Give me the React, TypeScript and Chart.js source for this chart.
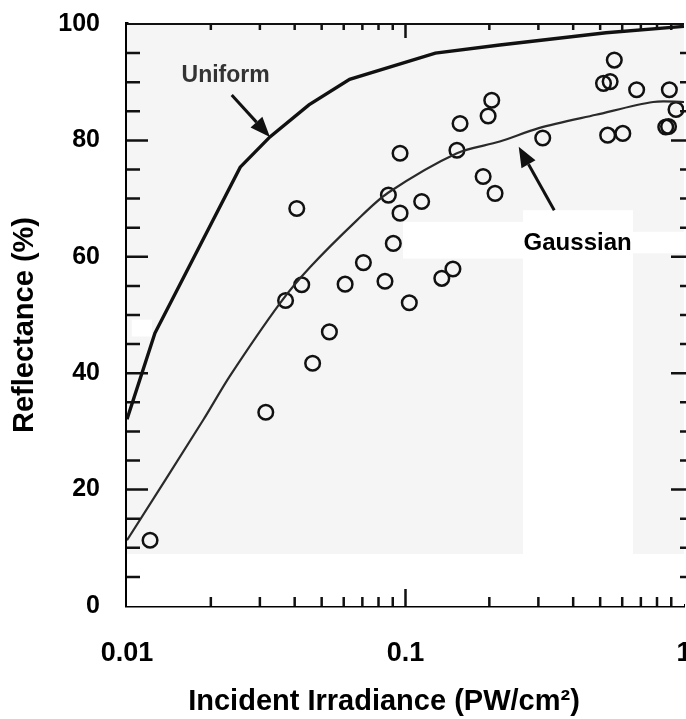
import React, { useEffect, useRef } from 'react';
import { Chart, registerables } from 'chart.js';

Chart.register(...registerables);

// ---- data ----
const uniformX = [0.01, 0.0126, 0.0255, 0.0326, 0.045, 0.063, 0.128, 0.218, 0.525, 1];
const uniformY = [32.1, 46.9, 75.4, 80.6, 86.1, 90.5, 95.0, 96.4, 98.5, 99.6];

const gaussianX = [0.01, 0.0188, 0.0234, 0.0354, 0.0454, 0.067, 0.0866, 0.153, 0.218, 0.301, 0.483, 0.775, 1];
const gaussianY = [11.3, 32.0, 39.5, 52.0, 58.2, 66.3, 71.0, 77.8, 79.8, 82.1, 84.4, 86.6, 86.6];

const measuredX = [
  0.0121, 0.0315, 0.0371, 0.0424, 0.0407, 0.0464, 0.0533, 0.0607, 0.0706, 0.0844,
  0.0904, 0.0868, 0.0956, 0.0956, 0.1032, 0.1143, 0.135, 0.148, 0.153, 0.157,
  0.19, 0.198, 0.204, 0.2097, 0.311, 0.514, 0.543, 0.562, 0.532, 0.603,
  0.676, 0.886, 0.936, 0.86, 0.88,
];
const measuredY = [
  11.3, 33.3, 52.5, 55.2, 68.3, 41.7, 47.1, 55.3, 59.0, 55.8,
  62.3, 70.6, 77.8, 67.5, 52.1, 69.5, 56.3, 57.9, 78.3, 82.9,
  73.8, 84.2, 86.9, 70.9, 80.4, 89.8, 90.1, 93.8, 80.9, 81.2,
  88.7, 88.7, 85.3, 82.3, 82.4,
];

const xTickValues = [0.01, 0.1, 1];
const xTickLabels = ['0.01', '0.1', '1'];
const yTickValues = [0, 20, 40, 60, 80, 100];
const yTickLabels = ['0', '20', '40', '60', '80', '100'];

const xMinorTicks = [0.02, 0.03, 0.04, 0.05, 0.06, 0.07, 0.08, 0.09, 0.1, 0.2, 0.3, 0.4, 0.5, 0.6, 0.7, 0.8, 0.9];
const xMajorTicks = [0.1];
const yMinorTicks = [5, 10, 15, 20, 25, 30, 35, 40, 45, 50, 55, 60, 65, 70, 75, 80, 85, 90, 95];
const yMajorTicks = [20, 40, 60, 80];

const xTitle = 'Incident Irradiance (PW/cm²)';
const yTitle = 'Reflectance (%)';

// annotations, in data coordinates
const labelTexts = ['Uniform', 'Gaussian'];
const labelX = [0.0226, 0.415];
const labelY = [90.1, 61.2];
const arrowFromX = [0.02377, 0.342];
const arrowFromY = [87.8, 68.0];
const arrowToX = [0.0326, 0.255];
const arrowToY = [80.6, 78.9];

// unshaded (white) areas of the scanned plot background, in data coordinates [x0, x1, y0, y1]
const paperPatches = [
  [0.01, 1, 0, 8.93],
  [0.2643, 0.656, 8.93, 68.0],
  [0.098, 0.2643, 59.7, 66.0],
  [0.656, 1, 60.6, 64.3],
  [0.0104, 0.0123, 46.3, 49.2],
];

const FONT = '"Liberation Sans", Arial, Helvetica, sans-serif';

const framePlugin = {
  id: 'frame',
  beforeDatasetsDraw(chart: any) {
    const { ctx, chartArea: a, scales } = chart;
    const xs = scales.x;
    const ys = scales.y;
    ctx.save();
    ctx.fillStyle = '#f5f5f5';
    ctx.fillRect(a.left, a.top, a.right - a.left, a.bottom - a.top);
    ctx.fillStyle = '#ffffff';
    for (const [x0, x1, y0, y1] of paperPatches) {
      const px0 = xs.getPixelForValue(x0);
      const px1 = xs.getPixelForValue(x1);
      const py0 = ys.getPixelForValue(y1);
      const py1 = ys.getPixelForValue(y0);
      ctx.fillRect(px0, py0, px1 - px0, py1 - py0);
    }
    ctx.restore();
  },
  afterDatasetsDraw(chart: any) {
    const { ctx, chartArea: a, scales } = chart;
    const xs = scales.x;
    const ys = scales.y;
    ctx.save();
    ctx.strokeStyle = '#111';
    ctx.lineCap = 'butt';
    // top frame line
    ctx.lineWidth = 2;
    ctx.beginPath();
    ctx.moveTo(a.left, a.top);
    ctx.lineTo(a.right, a.top);
    ctx.stroke();
    ctx.lineWidth = 2.5;
    ctx.beginPath();
    for (const v of yMinorTicks) {
      const p = ys.getPixelForValue(v);
      const major = yMajorTicks.includes(v);
      ctx.moveTo(a.left, p);
      ctx.lineTo(a.left + (major ? 21 : 13), p);
      ctx.moveTo(a.right + 2, p);
      ctx.lineTo(a.right + 2 - (major ? 15 : 6), p);
    }
    for (const v of xMinorTicks) {
      const p = xs.getPixelForValue(v);
      const major = xMajorTicks.includes(v);
      ctx.moveTo(p, a.bottom);
      ctx.lineTo(p, a.bottom - (major ? 17 : 9));
      ctx.moveTo(p, a.top);
      ctx.lineTo(p, a.top + (major ? 14 : 6));
    }
    ctx.stroke();
    ctx.restore();
  },
  afterDraw(chart: any) {
    const { ctx, scales } = chart;
    const xs = scales.x;
    const ys = scales.y;
    ctx.save();
    // axis titles
    ctx.fillStyle = '#000';
    ctx.font = `bold 29px ${FONT}`;
    ctx.textAlign = 'center';
    ctx.textBaseline = 'alphabetic';
    ctx.fillText(xTitle, 384, 710);
    ctx.save();
    ctx.translate(33, 325);
    ctx.rotate(-Math.PI / 2);
    ctx.fillText(yTitle, 0, 0);
    ctx.restore();

    // annotation labels
    labelTexts.forEach((t, i) => {
      ctx.font = i === 0 ? `bold 23px ${FONT}` : `bold 24px ${FONT}`;
      ctx.fillStyle = i === 0 ? '#333' : '#000';
      ctx.fillText(t, xs.getPixelForValue(labelX[i]), ys.getPixelForValue(labelY[i]));
    });

    // arrows
    ctx.strokeStyle = '#111';
    ctx.fillStyle = '#111';
    ctx.lineWidth = 3;
    arrowFromX.forEach((_, i) => {
      const x1 = xs.getPixelForValue(arrowFromX[i]);
      const y1 = ys.getPixelForValue(arrowFromY[i]);
      const x2 = xs.getPixelForValue(arrowToX[i]);
      const y2 = ys.getPixelForValue(arrowToY[i]);
      const ang = Math.atan2(y2 - y1, x2 - x1);
      const hl = 20;
      const hw = 8;
      const bx = x2 - hl * Math.cos(ang);
      const by = y2 - hl * Math.sin(ang);
      ctx.beginPath();
      ctx.moveTo(x1, y1);
      ctx.lineTo(bx, by);
      ctx.stroke();
      ctx.beginPath();
      ctx.moveTo(x2, y2);
      ctx.lineTo(bx + hw * Math.sin(ang), by - hw * Math.cos(ang));
      ctx.lineTo(bx - hw * Math.sin(ang), by + hw * Math.cos(ang));
      ctx.closePath();
      ctx.fill();
    });
    ctx.restore();
  },
};

export default function App() {
  const canvasRef = useRef<HTMLCanvasElement | null>(null);

  useEffect(() => {
    const canvas = canvasRef.current;
    if (!canvas) return;
    Chart.defaults.font.family = FONT;
    const chart = new Chart(canvas, {
      type: 'scatter',
      data: {
        datasets: [
          {
            label: 'Uniform',
            data: uniformX.map((x, i) => ({ x, y: uniformY[i] })),
            showLine: true,
            borderColor: '#111',
            borderWidth: 3.4,
            pointRadius: 0,
            tension: 0,
            fill: false,
          },
          {
            label: 'Gaussian',
            data: gaussianX.map((x, i) => ({ x, y: gaussianY[i] })),
            showLine: true,
            borderColor: '#2a2a2a',
            borderWidth: 2.2,
            pointRadius: 0,
            tension: 0.3,
            fill: false,
          },
          {
            label: 'Measured',
            data: measuredX.map((x, i) => ({ x, y: measuredY[i] })),
            showLine: false,
            pointRadius: 7.3,
            pointHoverRadius: 7.3,
            pointBorderWidth: 2.5,
            pointBorderColor: '#111',
            pointBackgroundColor: 'rgba(0,0,0,0)',
          },
        ],
      } as any,
      options: {
        animation: false,
        responsive: false,
        devicePixelRatio: 1,
        layout: { autoPadding: false, padding: { left: 0, top: 24, right: 2, bottom: 0 } },
        plugins: { legend: { display: false }, tooltip: { enabled: false } },
        scales: {
          x: {
            type: 'logarithmic',
            min: 0.01,
            max: 1,
            afterBuildTicks: (s: any) => {
              s.ticks = xTickValues.map((v) => ({ value: v }));
            },
            afterFit: (s: any) => {
              s.height = 113;
              s.paddingLeft = 0;
              s.paddingRight = 0;
              s.paddingTop = 0;
              s.paddingBottom = 0;
            },
            grid: { display: true, drawOnChartArea: false, drawTicks: false },
            border: { display: true, color: '#000', width: 3.5 },
            ticks: {
              autoSkip: false,
              maxRotation: 0,
              minRotation: 0,
              padding: 31,
              color: '#000',
              font: { size: 27, weight: 'bold' },
              callback: (_v: any, i: number) => xTickLabels[i],
            },
          },
          y: {
            type: 'linear',
            min: 0,
            max: 100,
            afterBuildTicks: (s: any) => {
              s.ticks = yTickValues.map((v) => ({ value: v }));
            },
            afterFit: (s: any) => {
              s.width = 127;
              s.paddingTop = 0;
              s.paddingBottom = 0;
              s.paddingLeft = 0;
              s.paddingRight = 0;
            },
            grid: { display: true, drawOnChartArea: false, drawTicks: false },
            border: { display: true, color: '#000', width: 3.5 },
            ticks: {
              padding: 27,
              color: '#000',
              font: { size: 25, weight: 'bold' },
              callback: (_v: any, i: number) => yTickLabels[i],
            },
          },
        },
      } as any,
      plugins: [framePlugin],
    });
    return () => chart.destroy();
  }, []);

  return (
    <div style={{ position: 'fixed', left: 0, top: 0, width: 686, height: 719, background: '#fff' }}>
      <canvas ref={canvasRef} width={686} height={719} style={{ display: 'block' }} />
    </div>
  );
}
